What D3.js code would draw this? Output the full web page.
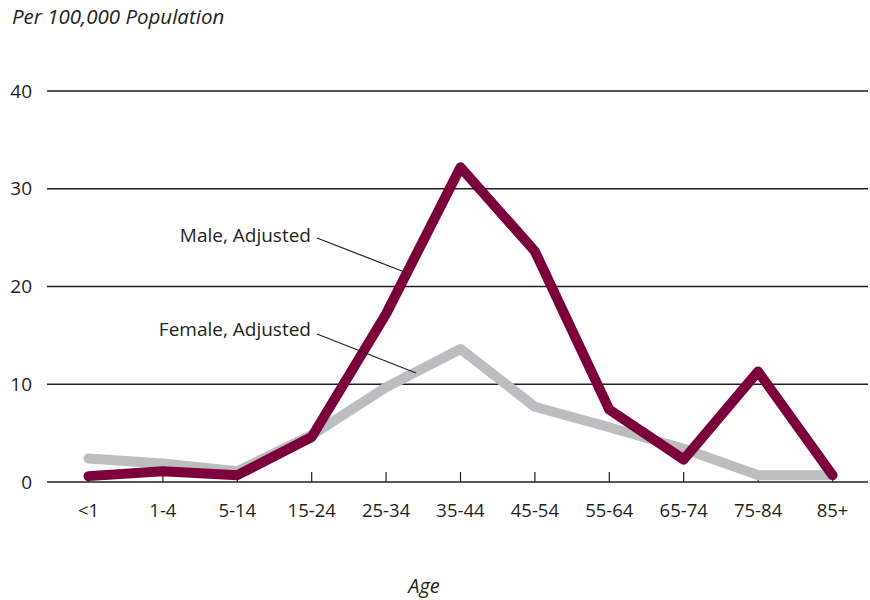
<!DOCTYPE html>
<html><head><meta charset="utf-8">
<script src="https://cdn.jsdelivr.net/npm/d3@7"></script>
<style>
body{margin:0;background:#fff;}
text{font-family:"Open Sans",sans-serif;fill:#231f20;}
</style></head>
<body><svg id="c" width="870" height="600"></svg>
<script>
const categories = ["<1","1-4","5-14","15-24","25-34","35-44","45-54","55-64","65-74","75-84","85+"];
const maleValues = [0.6,1.1,0.7,4.6,17.2,32.2,23.6,7.4,2.3,11.3,0.7];
const femaleValues = [2.4,1.9,1.1,4.8,9.7,13.6,7.7,5.6,3.4,0.7,0.7];
const yTicks = [0,10,20,30,40];
const seriesNames = ["Male, Adjusted","Female, Adjusted"];

(function(){
const svg = d3.select("#c");
const mLeft = 47, mRight = 868, mTop = 91, mBottom = 482;
const x = d3.scalePoint().domain(categories).range([88.5, 832.5]);
const y = d3.scaleLinear().domain([0,40]).range([mBottom, mTop]);

svg.append("g").selectAll("line").data(yTicks).join("line")
  .attr("x1", mLeft).attr("x2", mRight)
  .attr("y1", d=>y(d)).attr("y2", d=>y(d))
  .attr("stroke", "#231f20").attr("stroke-width", 1.3);
svg.append("g").selectAll("text").data(yTicks).join("text")
  .attr("x", 32).attr("y", d=>y(d)+6.5).attr("text-anchor","end")
  .attr("font-size", 19).text(d=>d);

svg.append("g").selectAll("line").data(categories).join("line")
  .attr("x1", d=>x(d)).attr("x2", d=>x(d))
  .attr("y1", mBottom-10).attr("y2", mBottom)
  .attr("stroke", "#231f20").attr("stroke-width", 1.2);
svg.append("g").selectAll("text").data(categories).join("text")
  .attr("x", d=>x(d)).attr("y", 517).attr("text-anchor","middle")
  .attr("font-size", 18.5).text(d=>d);

const line = d3.line().x((d,i)=>x(categories[i])).y(d=>y(d));
svg.append("path").datum(femaleValues).attr("d", line)
  .attr("fill","none").attr("stroke","#bcbdc0").attr("stroke-width",10)
  .attr("stroke-linejoin","round").attr("stroke-linecap","round");
svg.append("path").datum(maleValues).attr("d", line)
  .attr("fill","none").attr("stroke","#7b003c").attr("stroke-width",10)
  .attr("stroke-linejoin","round").attr("stroke-linecap","round");

const ann = [
  {name: seriesNames[0], tx: 311, ty: 242, x1: 317, y1: 238, x2: 407, y2: 273},
  {name: seriesNames[1], tx: 311, ty: 336, x1: 317, y1: 334, x2: 416, y2: 373}
];
svg.append("g").selectAll("text").data(ann).join("text")
  .attr("x", d=>d.tx).attr("y", d=>d.ty).attr("text-anchor","end")
  .attr("font-size", 19).text(d=>d.name);
svg.append("g").selectAll("line").data(ann).join("line")
  .attr("x1", d=>d.x1).attr("y1", d=>d.y1).attr("x2", d=>d.x2).attr("y2", d=>d.y2)
  .attr("stroke","#231f20").attr("stroke-width",1.2);

svg.append("text").attr("x", 12).attr("y", 24).attr("font-style","italic")
  .attr("font-size", 20.5).text("Per 100,000 Population");
svg.append("text").attr("x", 424).attr("y", 593).attr("text-anchor","middle")
  .attr("font-style","italic").attr("font-size", 20).text("Age");
})();
</script></body></html>
